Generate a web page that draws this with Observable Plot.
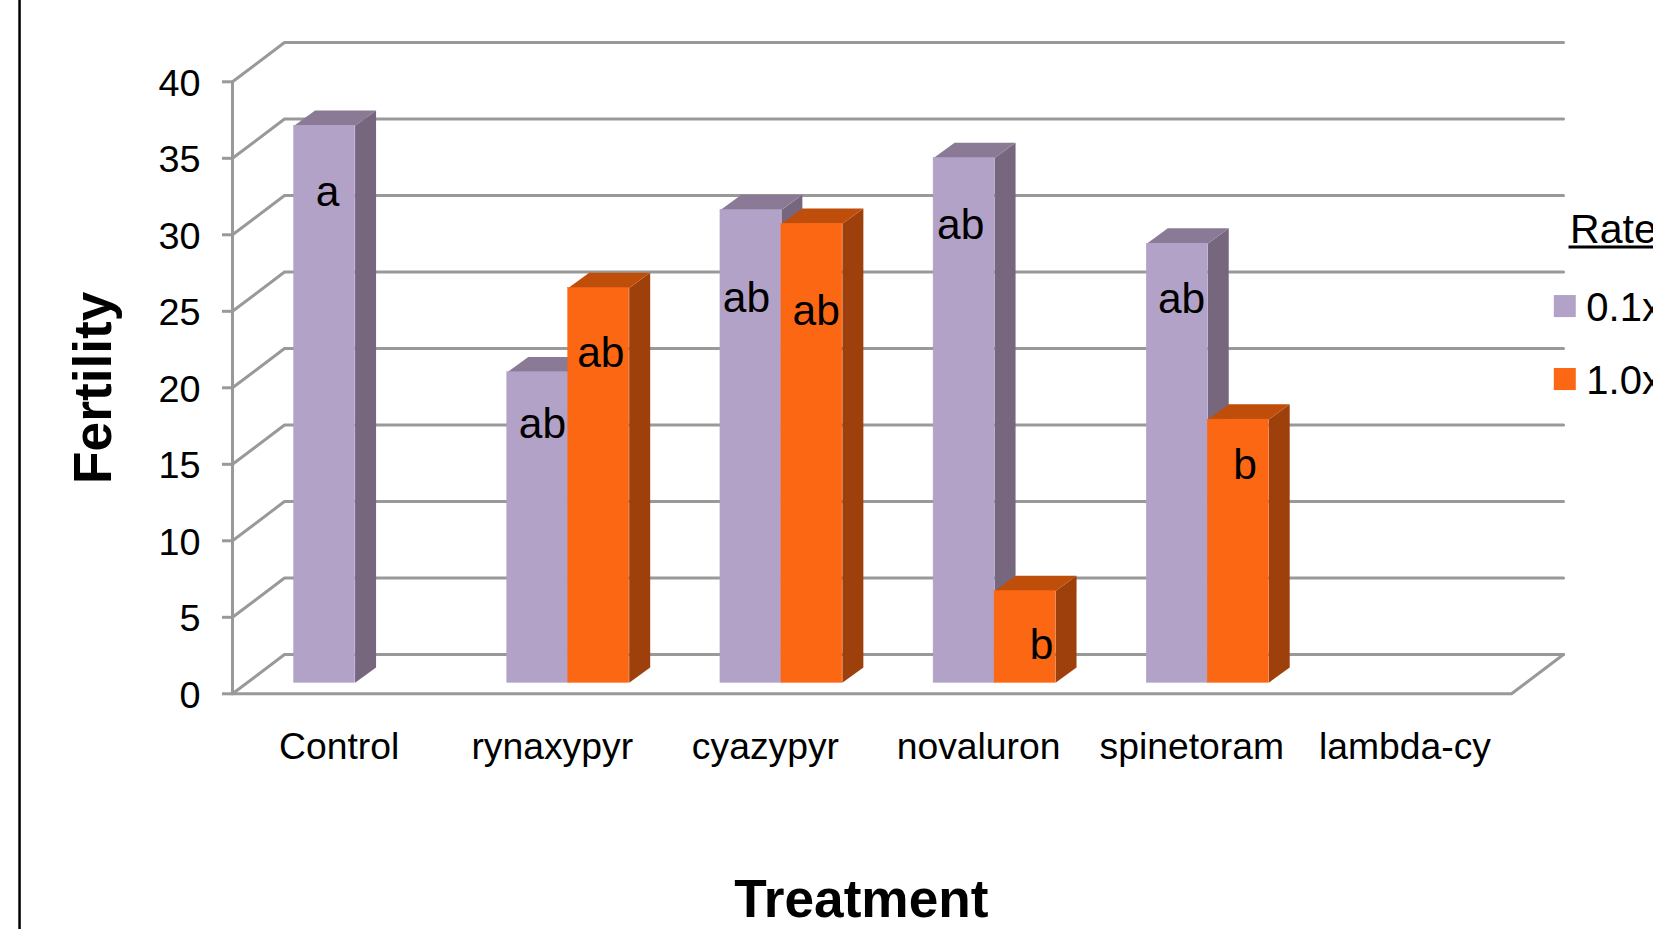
<!DOCTYPE html>
<html>
<head>
<meta charset="utf-8">
<script src="https://cdn.jsdelivr.net/npm/d3@7"></script>
<script src="https://cdn.jsdelivr.net/npm/@observablehq/plot@0.6"></script>
<style>
html,body{margin:0;padding:0;background:#fff;overflow:hidden}
svg{display:block}
</style>
</head>
<body>
<div id="chart"></div>
<script>
const categories = ["Control","rynaxypyr","cyazypyr","novaluron","spinetoram","lambda-cy"];
const rates = ["0.1x","1.0x"];
const rate01 = [36.4,20.3,30.9,34.3,28.7,null];
const rate10 = [null,25.8,30.0,6.0,17.2,null];
const yTicks = [0,5,10,15,20,25,30,35,40];

// significance letters: category, letter, position within the category, height on the value axis
const letterCat   = [0,1,1,2,2,3,3,4,4];
const letterText  = ["a","ab","ab","ab","ab","ab","b","ab","b"];
const letterPos   = [0.446,0.454,0.728,0.411,0.738,0.416,0.795,0.452,0.750];
const letterLevel = [32.75,17.6,22.25,25.84,25.0,30.6,3.14,25.76,14.92];

const palette = {
  "0.1x": {front:"#B2A2C7", side:"#76677F", top:"#8A7A96"},
  "1.0x": {front:"#FC6714", side:"#9E400B", top:"#C04E0B"}
};

// 3-D construction, in axis units
const wallX = 0.244, wallY = 2.57;      // wall depth
const barX = 0.0985, barY = 1.0;        // bar depth
const barBase = 0.72;                   // front of bars above front of floor
const barStart = 0.289, barW = 0.286;   // within category
const grey = "#999";

const bars = [rate01, rate10].flatMap((vals, s) =>
  vals.map((v, i) => v == null ? null : ({
    id: `${s}-${i}`, rate: rates[s],
    x1: i + barStart + s * barW,
    x2: i + barStart + (s + 1) * barW,
    y1: barBase,
    y2: barBase + v
  })).filter(Boolean)
);

const sidePts = b => [
  [b.x2, b.y1], [b.x2 + barX, b.y1 + barY], [b.x2 + barX, b.y2 + barY], [b.x2, b.y2]
].map(([x, y]) => ({id: b.id, x, y}));
const topPts = b => [
  [b.x1, b.y2], [b.x2, b.y2], [b.x2 + barX, b.y2 + barY], [b.x1 + barX, b.y2 + barY]
].map(([x, y]) => ({id: b.id, x, y}));

const barMarks = rates.flatMap(r => {
  const rows = bars.filter(b => b.rate === r);
  const c = palette[r];
  return [
    Plot.line(rows.flatMap(sidePts), {x:"x", y:"y", z:"id", fill:c.side, stroke:"none"}),
    Plot.line(rows.flatMap(topPts),  {x:"x", y:"y", z:"id", fill:c.top,  stroke:"none"}),
    Plot.rect(rows, {x1:"x1", x2:"x2", y1:"y1", y2:"y2", fill:c.front, stroke:c.front, strokeWidth:0.5})
  ];
});

const gridRows = yTicks.flatMap(v => [
  {v, x:0, y:v},
  {v, x:wallX, y:v + wallY},
  {v, x:categories.length + wallX, y:v + wallY}
]);
const floorRows = [
  {x:0, y:0},
  {x:categories.length, y:0},
  {x:categories.length + wallX, y:wallY}
];
const letters = letterText.map((t, i) => ({t, x: letterCat[i] + letterPos[i], y: letterLevel[i]}));

const legendX1 = 6.2008, legendX2 = 6.3039, legendTextX = 6.351;
const legendRows = [
  {rate:"0.1x", y1:24.59, y2:26.03, yt:25.2},
  {rate:"1.0x", y1:19.82, y2:21.26, yt:20.4}
];

const chart = Plot.plot({
  width: 1653, height: 929,
  marginLeft: 232, marginRight: 142, marginTop: 81.3, marginBottom: 235.7,
  x: {domain:[0,6]},
  y: {domain:[0,40]},
  style: {fontFamily:"'Liberation Sans', Arial, sans-serif", background:"#fff", color:"#000", overflow:"visible"},
  marks: [
    Plot.ruleX([-0.999], {y1:-15.5, y2:45.5, stroke:"#000", strokeWidth:2.5}),
    Plot.line(gridRows, {x:"x", y:"y", z:"v", stroke:grey, strokeWidth:3}),
    Plot.line(floorRows, {x:"x", y:"y", stroke:grey, strokeWidth:3}),
    Plot.ruleX([0], {y1:0, y2:40, stroke:grey, strokeWidth:3}),
    Plot.axisY({ticks:yTicks, tickSize:10, text:null, stroke:grey, strokeWidth:3, label:null}),
    Plot.axisY({ticks:yTicks, tickSize:0, tickPadding:32, dy:2, fontSize:37.8, label:null, fill:"#000"}),
    Plot.axisX({ticks:categories.map((c,i)=>i+0.5), tickFormat:d=>categories[d-0.5], tickSize:0, tickPadding:39, fontSize:37.3, label:null, fill:"#000"}),
    ...barMarks,
    Plot.text(letters, {x:"x", y:"y", text:"t", fontSize:42.5, fill:"#000"}),
    Plot.text(["Fertility"], {x:-0.652, y:20, text:d=>d, rotate:-90, fontSize:53.3, fontWeight:"bold", fill:"#000"}),
    Plot.text(["Treatment"], {x:2.95, y:-13.48, text:d=>d, fontSize:53.2, fontWeight:"bold", fill:"#000"}),
    Plot.text(["Rate"], {x:6.275, y:30.3, text:d=>d, textAnchor:"start", fontSize:41, fill:"#000"}),
    Plot.ruleY([29.2], {x1:6.27, x2:6.8, stroke:"#000", strokeWidth:3}),
    Plot.rect(legendRows, {x1:legendX1, x2:legendX2, y1:"y1", y2:"y2", fill:d=>palette[d.rate].front}),
    Plot.text(legendRows, {x:legendTextX, y:"yt", text:"rate", textAnchor:"start", fontSize:40, fill:"#000"})
  ]
});
document.getElementById("chart").append(chart);
</script>
</body>
</html>
